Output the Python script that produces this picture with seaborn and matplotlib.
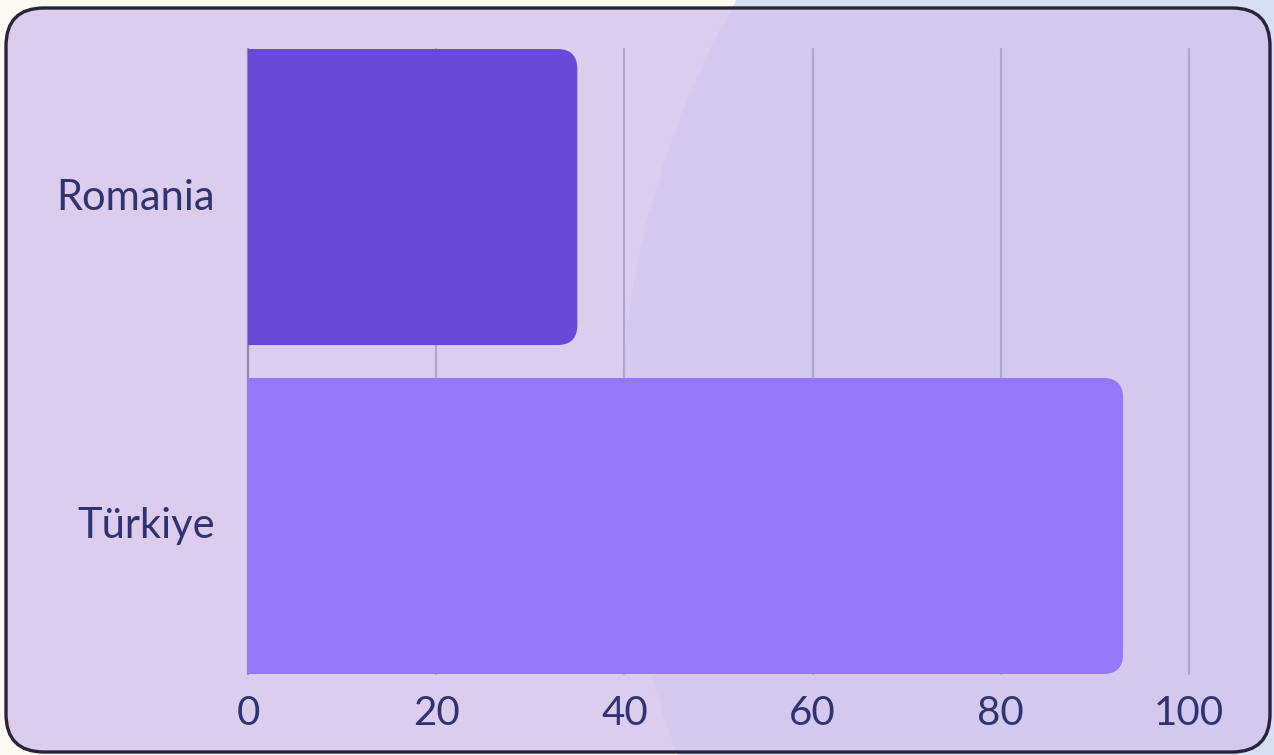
import matplotlib
matplotlib.use("Agg")
import matplotlib.pyplot as plt
from matplotlib.patches import FancyBboxPatch, Circle
from matplotlib.transforms import ScaledTranslation
import seaborn as sns

# Chart data
countries = ["Romania", "Türkiye"]
values = [35, 93]
bar_colors = ["#6a49d6", "#9677f7"]
x_ticks = [0, 20, 40, 60, 80, 100]

TEXT = "#2f3470"
GRID = "#ada5d3"
ZERO = "#8d86ab"

sns.set_theme(style="white")
plt.rcParams["font.family"] = ["Lato", "DejaVu Sans"]

W, H = 1274, 755
fig = plt.figure(figsize=(W / 100, H / 100), dpi=100)
fig.patch.set_facecolor("#fefaf3")

# Background layer in pixel coordinates
bg = fig.add_axes([0, 0, 1, 1], zorder=0)
bg.set_xlim(0, W)
bg.set_ylim(H, 0)
bg.axis("off")

glow_center, glow_r = (1510, 440), 890
bg.add_patch(Circle(glow_center, glow_r, facecolor="#d6e0f2", edgecolor="none", zorder=0))
card = FancyBboxPatch((6, 8), 1264, 744, boxstyle="round,pad=0,rounding_size=38",
                      facecolor="#dccdef", edgecolor="none", zorder=1)
bg.add_patch(card)
glow = Circle(glow_center, glow_r, facecolor="#d4c8ee", edgecolor="none", zorder=2)
bg.add_patch(glow)
glow.set_clip_path(card)
bg.add_patch(FancyBboxPatch((6, 8), 1264, 744, boxstyle="round,pad=0,rounding_size=38",
                            facecolor="none", edgecolor="#28223a", lw=2.4, zorder=3))

# Bar chart
ax = fig.add_axes([248 / W, 81 / H, 941 / W, 625 / H], zorder=2)
ax.set_facecolor("none")
sns.barplot(x=values, y=countries, hue=countries, palette=bar_colors, width=0.9,
            saturation=1, legend=False, orient="h", ax=ax)

ax.set_xlim(0, 100)
ax.set_ylim(1.45, -0.45)

# Replace plain rectangles with bars rounded on the value end
x_per_px = 100 / 941
y_per_px = 1.9 / 625
radius_px = 20
for p in list(ax.patches):
    x0, y0 = p.get_x(), p.get_y()
    w, h = p.get_width(), p.get_height()
    fc = p.get_facecolor()
    p.set_visible(False)
    r = radius_px * x_per_px
    rb = FancyBboxPatch((x0 - 2 * r, y0), w + 2 * r, h,
                        boxstyle=f"round,pad=0,rounding_size={r}",
                        mutation_aspect=y_per_px / x_per_px,
                        facecolor=fc, edgecolor="none", zorder=3)
    ax.add_patch(rb)
    rb.set_clip_path(ax.patch)

# Vertical grid
for t in x_ticks:
    ax.axvline(t, color=ZERO if t == 0 else GRID, lw=1.6, zorder=1, clip_on=False)

sns.despine(ax=ax, left=True, bottom=True)
ax.set_xticks(x_ticks)
ax.set_xticklabels([str(t) for t in x_ticks])
ax.tick_params(axis="x", length=0, pad=15, labelsize=29, labelcolor=TEXT)
ax.tick_params(axis="y", length=0, pad=24, labelsize=30, labelcolor=TEXT)
lift = ScaledTranslation(0, 3 / 100, fig.dpi_scale_trans)
for lbl in ax.get_yticklabels():
    lbl.set_verticalalignment("center_baseline")
    lbl.set_transform(lbl.get_transform() + lift)
ax.set_xlabel("")
ax.set_ylabel("")

fig.savefig("out.png", dpi=100, facecolor=fig.get_facecolor())
